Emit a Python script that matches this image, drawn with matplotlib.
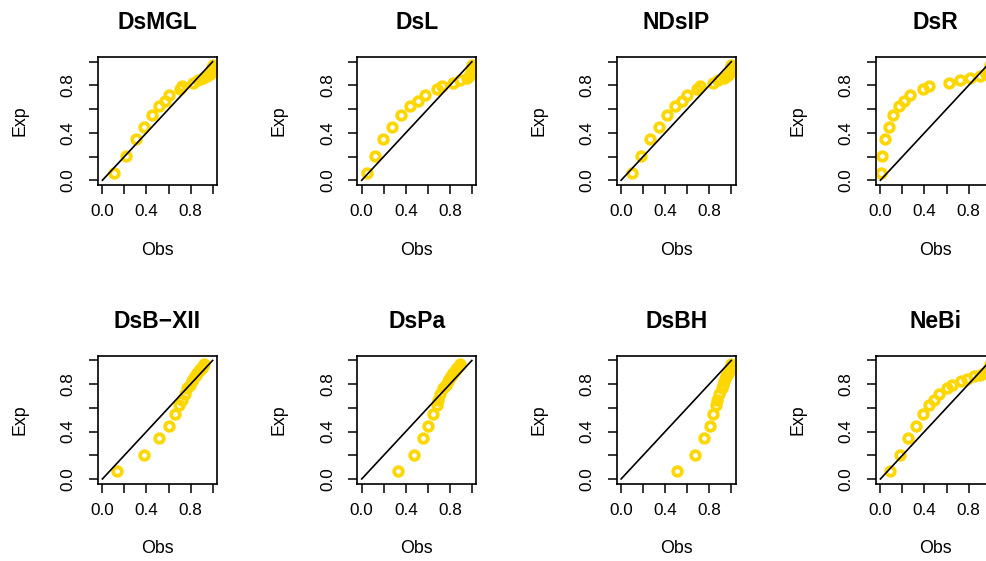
import matplotlib
matplotlib.use("Agg")
import matplotlib.pyplot as plt

plt.rcParams["font.family"] = ["Liberation Sans", "DejaVu Sans"]

W, H, DPI = 986, 561, 100

# Empirical CDF values shared by every model (vertical axis)
exp_vals = [0.065, 0.205, 0.346, 0.446, 0.551, 0.628, 0.665, 0.718, 0.770, 0.795,
            0.823, 0.843, 0.866, 0.880, 0.894, 0.910, 0.925, 0.940, 0.955, 0.970]

# Fitted CDF values for each model (horizontal axis)
obs_dsmgl = [0.108, 0.211, 0.302, 0.378, 0.447, 0.514, 0.568, 0.607, 0.704, 0.719,
             0.825, 0.870, 0.910, 0.946, 0.976, 0.990, 0.995, 0.998, 0.999, 1.000]
obs_dsl = [0.045, 0.121, 0.196, 0.278, 0.357, 0.438, 0.514, 0.574, 0.680, 0.726,
           0.831, 0.892, 0.953, 0.975, 0.990, 0.995, 0.997, 0.998, 0.999, 1.000]
obs_ndsip = [0.096, 0.181, 0.262, 0.344, 0.420, 0.489, 0.550, 0.595, 0.692, 0.716,
             0.831, 0.882, 0.935, 0.965, 0.982, 0.992, 0.996, 0.998, 0.999, 1.000]
obs_dsr = [0.003, 0.018, 0.040, 0.075, 0.115, 0.165, 0.215, 0.265, 0.385, 0.445,
           0.620, 0.720, 0.810, 0.900, 0.955, 0.975, 0.985, 0.992, 0.996, 0.999]
obs_dsbxii = [0.129, 0.381, 0.517, 0.604, 0.659, 0.698, 0.725, 0.750, 0.771, 0.795,
              0.810, 0.825, 0.840, 0.852, 0.863, 0.875, 0.888, 0.900, 0.912, 0.925]
obs_dspa = [0.333, 0.475, 0.553, 0.605, 0.650, 0.680, 0.695, 0.711, 0.741, 0.765,
            0.780, 0.795, 0.810, 0.822, 0.833, 0.845, 0.857, 0.868, 0.880, 0.892]
obs_dsbh = [0.504, 0.671, 0.755, 0.807, 0.837, 0.861, 0.873, 0.891, 0.913, 0.922,
            0.935, 0.945, 0.955, 0.963, 0.972, 0.979, 0.985, 0.990, 0.994, 0.997]
obs_nebi = [0.087, 0.178, 0.253, 0.323, 0.384, 0.444, 0.489, 0.532, 0.600, 0.650,
            0.730, 0.790, 0.850, 0.900, 0.940, 0.965, 0.980, 0.990, 0.995, 0.998]

model_names = ["DsMGL", "DsL", "NDsIP", "DsR", "DsB\u2212XII", "DsPa", "DsBH", "NeBi"]
model_obs = [obs_dsmgl, obs_dsl, obs_ndsip, obs_dsr,
             obs_dsbxii, obs_dspa, obs_dsbh, obs_nebi]

tick_vals = [0.0, 0.2, 0.4, 0.6, 0.8, 1.0]
tick_text = ["0.0", "", "0.4", "", "0.8", ""]

PT = DPI / 72.0  # pixels per point

# panel boxes in pixels (left edge of each column, top edge of each row)
col_left = [98, 357.3, 616.7, 876]
row_top = [57, 355.7]
box_w, box_h = 119, 128

fig = plt.figure(figsize=(W / DPI, H / DPI), dpi=DPI)

for k, (name, obs) in enumerate(zip(model_names, model_obs)):
    r, c = divmod(k, 4)
    left = col_left[c] / W
    bottom = 1 - (row_top[r] + box_h) / H
    ax = fig.add_axes([left, bottom, box_w / W, box_h / H])

    ax.plot([0, 1], [0, 1], color="black", lw=1.2, zorder=3)
    ax.plot(obs, exp_vals, linestyle="none", marker="o", markersize=6.2,
            markerfacecolor="none", markeredgecolor="#FFD700",
            markeredgewidth=2.7, zorder=2)

    ax.set_xlim(-0.04, 1.04)
    ax.set_ylim(-0.04, 1.04)
    ax.set_xticks(tick_vals)
    ax.set_yticks(tick_vals)
    ax.set_xticklabels(tick_text)
    ax.set_yticklabels(tick_text, rotation=90, va="center")
    ax.tick_params(axis="both", direction="out", length=6.5, width=1.1,
                   labelsize=12.3, colors="black")
    ax.tick_params(axis="x", pad=7.5)
    ax.tick_params(axis="y", pad=9.5)
    for sp in ax.spines.values():
        sp.set_linewidth(1.2)

    ax.set_title(name, fontsize=16.5, fontweight="bold", pad=20)
    ax.annotate("Obs", xy=(0.5, 0), xycoords="axes fraction",
                xytext=(0, -65 / PT), textcoords="offset points",
                ha="center", va="center", fontsize=12.8)
    ax.annotate("Exp", xy=(0, 0.5), xycoords="axes fraction",
                xytext=(-78 / PT, 0), textcoords="offset points",
                ha="center", va="center", rotation=90, fontsize=12.8)

fig.savefig("out.png", dpi=DPI)
